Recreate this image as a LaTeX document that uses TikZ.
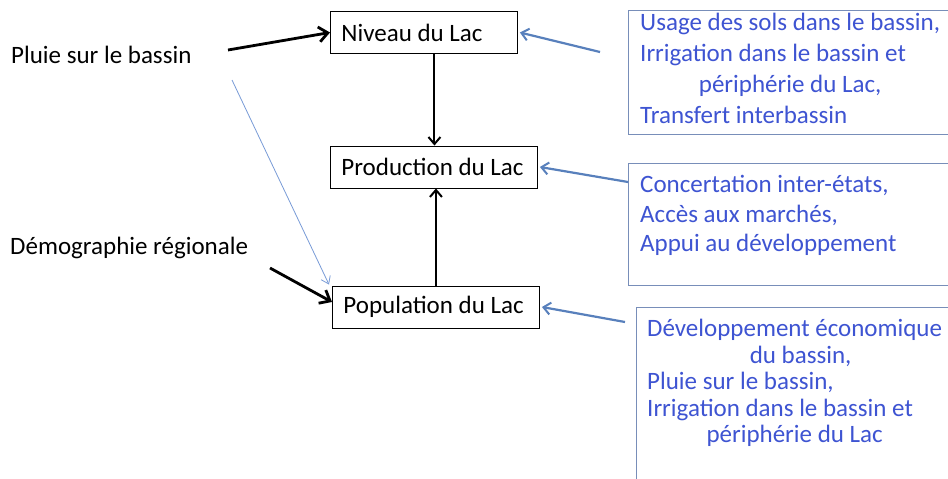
\documentclass[tikz,border=0pt]{standalone}
\usepackage{fontspec}
\setmainfont{Carlito}
\usetikzlibrary{arrows.meta}
\definecolor{txtblue}{RGB}{62,84,210}
\definecolor{linkblue}{RGB}{88,128,188}
\definecolor{boxblue}{RGB}{120,142,185}
\definecolor{thinblue}{RGB}{120,155,215}
\tikzset{
  base/.style={font=\fontsize{25}{30}\selectfont},
  lacbox/.style={base, draw=black, line width=0.9pt, inner xsep=11pt, inner ysep=0pt,
    minimum height=42pt, anchor=west},
  plain/.style={base, inner sep=0pt, anchor=west},
  bluebox/.style={draw=boxblue, line width=1pt, anchor=north west, inner sep=0pt},
  bluetext/.style={text=txtblue, inner sep=0pt, anchor=north west},
  thickarrow/.style={line width=2.8pt, -{Straight Barb[length=9pt,width=15pt,line width=2.8pt]}},
  midarrow/.style={line width=2pt, -{Straight Barb[length=7pt,width=12pt,line width=2pt]}},
  thinarrow/.style={draw=thinblue, line width=0.8pt, -{Straight Barb[length=7pt,width=10pt,line width=0.8pt]}},
  linkarrow/.style={draw=linkblue, line width=2.2pt, -{Straight Barb[length=7pt,width=12pt,line width=2pt]}}
}
\begin{document}
\begin{tikzpicture}[x=1pt,y=-1pt]
\useasboundingbox[fill=white] (0,0) rectangle (948,479);
\begin{scope}
\clip (0,0) rectangle (948,479);
% left texts
\node[plain] (pluie) at (11,55) {Pluie sur le bassin};
\node[plain] (demo) at (10,248) {Démographie régionale};
% central boxes
\node[lacbox] (niveau) at (330,32.5) {\makebox[165pt][l]{Niveau du Lac}};
\node[lacbox] (production) at (330,167) {\makebox[185pt][l]{Production du Lac}};
\node[lacbox] (population) at (332,307) {\makebox[185pt][l]{Population du Lac}};
% right boxes
\node[bluebox, minimum width=340pt, minimum height=124pt] (box1) at (628,10) {};
\node[bluebox, minimum width=340pt, minimum height=122pt] (box2) at (628,163) {};
\node[bluebox, minimum width=340pt, minimum height=190pt] (box3) at (636,307) {};
\node[bluetext] (t1) at (640,9) {\fontsize{25}{31}\selectfont
  \begin{tabular}{@{}l@{}}
  Usage des sols dans le bassin,\\
  Irrigation dans le bassin et\\
  \multicolumn{1}{@{}c@{}}{périphérie du Lac,}\\
  Transfert interbassin
  \end{tabular}};
\node[bluetext] (t2) at (640,172) {\fontsize{25}{29.5}\selectfont
  \begin{tabular}{@{}l@{}}
  Concertation inter-états,\\
  Accès aux marchés,\\
  Appui au développement
  \end{tabular}};
\node[bluetext] (t3) at (647,318) {\fontsize{25}{26.5}\selectfont
  \begin{tabular}{@{}l@{}}
  Développement économique\\
  \multicolumn{1}{@{}c@{}}{\hspace{12pt}du bassin,}\\
  Pluie sur le bassin,\\
  Irrigation dans le bassin et\\
  \multicolumn{1}{@{}c@{}}{\hspace{0pt}périphérie du Lac}
  \end{tabular}};
% connector start points
\coordinate (p1) at (228,50);
\coordinate (p2) at (232,80);
\coordinate (d1) at (270,268);
\coordinate (c1) at (600,52);
\coordinate (c2) at (628,182);
\coordinate (c3) at (625,322);
% connectors
\draw[thickarrow] (p1) -- (niveau.west);
\draw[thickarrow] (d1) -- ([yshift=5pt]population.west);
\draw[midarrow] ([xshift=10.5pt]niveau.south) -- ([xshift=10.5pt]niveau.south |- production.north);
\draw[midarrow] (population.north) -- (population.north |- production.south);
\draw[thinarrow] (p2) -- ([xshift=-3pt,yshift=1pt]population.north west);
\draw[linkarrow] (c1) -- ([xshift=2pt]niveau.east);
\draw[linkarrow] (c2) -- ([xshift=2pt]production.east);
\draw[linkarrow] (c3) -- ([xshift=2pt]population.east);
\end{scope}
\end{tikzpicture}
\end{document}
